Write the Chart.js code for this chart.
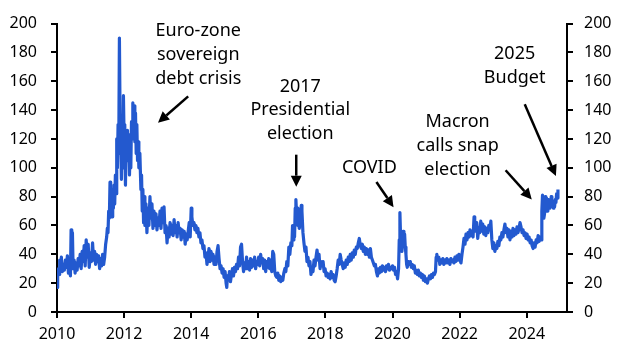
<!DOCTYPE html>
<html><head><meta charset="utf-8">
<script src="https://cdn.jsdelivr.net/npm/chart.js@4/dist/chart.umd.min.js"></script>
<style>html,body{margin:0;padding:0;background:#fff}#wrap{width:621px;height:352px}</style>
</head><body><div id="wrap"><canvas id="c" width="621" height="352"></canvas></div>
<script>
// French-German 10y spread (bp), decimal years
const dates = [
2010.00,2010.02,2010.04,2010.06,2010.08,2010.10,2010.13,2010.16,2010.19,2010.22,2010.25,2010.28,2010.31,2010.34,2010.37,2010.40,2010.42,2010.44,2010.46,2010.48,2010.51,2010.54,2010.57,2010.60,2010.63,2010.66,2010.69,2010.72,2010.75,2010.78,2010.81,2010.84,2010.87,2010.90,2010.93,2010.96,
2011.00,2011.03,2011.06,2011.09,2011.12,2011.15,2011.18,2011.21,2011.24,2011.27,2011.30,2011.33,2011.36,2011.39,2011.42,2011.45,2011.48,2011.50,2011.52,2011.54,2011.56,2011.58,2011.60,2011.62,2011.64,2011.66,2011.68,2011.70,2011.72,2011.74,2011.76,2011.78,2011.80,2011.82,2011.84,2011.86,2011.88,2011.90,2011.92,2011.94,2011.96,2011.98,
2012.00,2012.02,2012.04,2012.06,2012.08,2012.10,2012.12,2012.14,2012.16,2012.18,2012.20,2012.22,2012.24,2012.26,2012.28,2012.30,2012.32,2012.34,2012.36,2012.38,2012.40,2012.42,2012.44,2012.47,2012.50,2012.52,2012.54,2012.56,2012.58,2012.60,2012.62,2012.65,2012.68,2012.71,2012.74,2012.77,2012.80,2012.83,2012.86,2012.89,2012.92,2012.95,2012.98,
2013.01,2013.04,2013.07,2013.10,2013.13,2013.16,2013.19,2013.22,2013.25,2013.28,2013.31,2013.34,2013.37,2013.40,2013.43,2013.46,2013.49,2013.52,2013.55,2013.58,2013.61,2013.64,2013.67,2013.70,2013.73,2013.76,2013.79,2013.82,2013.85,2013.88,2013.91,2013.94,2013.97,
2014.00,2014.02,2014.05,2014.08,2014.11,2014.14,2014.17,2014.20,2014.23,2014.26,2014.29,2014.32,2014.35,2014.38,2014.41,2014.44,2014.47,2014.50,2014.53,2014.56,2014.59,2014.62,2014.65,2014.68,2014.71,2014.74,2014.77,2014.80,2014.83,2014.86,2014.89,2014.92,2014.95,2014.98,
2015.01,2015.04,2015.06,2015.08,2015.11,2015.14,2015.17,2015.20,2015.23,2015.26,2015.29,2015.32,2015.35,2015.38,2015.41,2015.44,2015.47,2015.50,2015.53,2015.56,2015.59,2015.62,2015.65,2015.68,2015.71,2015.74,2015.77,2015.80,2015.83,2015.86,2015.89,2015.92,2015.95,2015.98,
2016.01,2016.04,2016.07,2016.10,2016.13,2016.16,2016.19,2016.22,2016.25,2016.28,2016.31,2016.34,2016.37,2016.40,2016.43,2016.46,2016.49,2016.52,2016.55,2016.58,2016.61,2016.64,2016.67,2016.70,2016.73,2016.76,2016.79,2016.82,2016.85,2016.88,2016.91,2016.94,2016.97,
2017.00,2017.02,2017.04,2017.06,2017.08,2017.10,2017.12,2017.14,2017.16,2017.18,2017.20,2017.22,2017.25,2017.28,2017.30,2017.33,2017.36,2017.39,2017.42,2017.45,2017.48,2017.51,2017.54,2017.57,2017.60,2017.63,2017.66,2017.69,2017.72,2017.75,2017.78,2017.81,2017.84,2017.87,2017.90,2017.93,2017.96,2017.99,
2018.02,2018.05,2018.08,2018.11,2018.14,2018.17,2018.20,2018.23,2018.26,2018.29,2018.32,2018.35,2018.38,2018.41,2018.44,2018.47,2018.50,2018.53,2018.56,2018.59,2018.62,2018.65,2018.68,2018.71,2018.74,2018.77,2018.80,2018.83,2018.86,2018.89,2018.92,2018.95,2018.98,
2019.01,2019.04,2019.07,2019.10,2019.13,2019.16,2019.19,2019.22,2019.25,2019.28,2019.31,2019.34,2019.37,2019.40,2019.43,2019.46,2019.49,2019.52,2019.55,2019.58,2019.61,2019.64,2019.67,2019.70,2019.73,2019.76,2019.79,2019.82,2019.85,2019.88,2019.91,2019.94,2019.97,
2020.00,2020.03,2020.06,2020.09,2020.12,2020.15,2020.18,2020.20,2020.22,2020.24,2020.26,2020.28,2020.30,2020.32,2020.34,2020.36,2020.38,2020.40,2020.42,2020.44,2020.47,2020.50,2020.53,2020.56,2020.59,2020.62,2020.65,2020.68,2020.71,2020.74,2020.77,2020.80,2020.83,2020.86,2020.89,2020.92,2020.95,2020.98,
2021.01,2021.04,2021.07,2021.10,2021.13,2021.16,2021.19,2021.22,2021.25,2021.28,2021.30,2021.32,2021.35,2021.38,2021.41,2021.44,2021.47,2021.50,2021.53,2021.56,2021.59,2021.62,2021.65,2021.68,2021.71,2021.74,2021.77,2021.80,2021.83,2021.86,2021.89,2021.92,2021.95,2021.98,
2022.01,2022.04,2022.07,2022.10,2022.13,2022.16,2022.19,2022.22,2022.25,2022.28,2022.31,2022.34,2022.37,2022.40,2022.43,2022.45,2022.48,2022.51,2022.54,2022.57,2022.60,2022.63,2022.66,2022.69,2022.72,2022.75,2022.78,2022.81,2022.84,2022.87,2022.90,2022.93,2022.96,2022.99,
2023.02,2023.05,2023.08,2023.11,2023.14,2023.17,2023.20,2023.23,2023.26,2023.29,2023.32,2023.35,2023.38,2023.41,2023.44,2023.47,2023.50,2023.53,2023.56,2023.59,2023.62,2023.65,2023.68,2023.71,2023.74,2023.77,2023.80,2023.83,2023.86,2023.89,2023.92,2023.95,2023.98,
2024.01,2024.04,2024.07,2024.10,2024.13,2024.16,2024.19,2024.22,2024.25,2024.28,2024.31,2024.34,2024.37,2024.40,2024.43,2024.45,2024.47,2024.49,2024.51,2024.53,2024.55,2024.57,2024.59,2024.61,2024.63,2024.65,2024.67,2024.69,2024.71,2024.73,2024.75,2024.77,2024.79,2024.81,2024.83,2024.85,2024.87,2024.89,2024.91,2024.93
];
const spread = [
17,24,30,26,36,30,38,28,33,29,36,31,39,27,33,25,57,45,55,30,36,27,34,29,37,32,40,30,42,35,46,32,50,38,47,31,
41,35,48,36,42,33,40,35,39,30,37,32,40,33,38,47,52,58,55,70,65,90,68,75,66,85,72,88,75,95,82,120,100,130,110,190,135,118,92,125,100,150,
120,130,88,120,105,126,110,123,95,115,100,132,120,145,130,143,118,138,110,130,105,118,100,110,85,95,70,85,62,80,60,75,55,72,60,80,65,75,58,70,60,68,57,
65,60,70,58,72,62,73,55,60,48,58,52,62,54,60,53,64,55,60,52,62,55,58,50,57,52,56,47,54,50,56,62,52,
72,66,60,62,57,60,55,58,52,55,48,50,44,46,38,41,33,38,44,35,42,36,40,33,38,33,42,46,37,30,32,27,30,24,
28,20,17,25,22,28,21,26,30,25,31,28,33,30,38,32,45,47,35,28,34,30,38,30,35,29,37,31,36,32,38,30,35,33,
38,32,40,34,37,30,36,28,35,31,37,30,36,28,42,40,28,25,24,27,22,25,21,24,22,27,30,28,35,32,45,40,48,
46,60,50,58,52,72,78,68,72,60,65,58,62,74,70,55,48,42,45,35,38,32,35,26,30,28,36,32,38,43,36,40,30,35,32,35,28,30,
25,27,24,26,23,28,24,26,22,21,25,30,36,33,40,36,33,30,34,31,36,33,38,35,40,36,41,38,43,40,45,44,48,
51,46,44,47,42,45,40,44,40,43,38,44,38,36,34,32,33,28,25,30,27,31,28,32,29,31,28,32,30,33,29,31,30,
32,29,31,26,28,23,30,50,69,52,45,42,50,56,50,54,45,40,33,31,35,33,35,31,33,30,32,27,29,26,29,25,27,24,26,22,25,21,
23,20,23,25,23,26,24,27,26,28,38,40,36,38,33,36,34,37,33,36,34,37,34,36,33,37,35,36,34,38,35,39,36,40,
36,34,40,45,51,47,54,50,55,52,57,53,56,52,66,60,56,62,51,58,55,63,56,61,54,59,53,58,55,60,57,63,50,44,
48,42,46,44,49,46,52,50,55,52,57,61,55,58,52,57,50,56,52,58,53,57,54,59,55,58,62,59,55,57,53,55,51,
54,50,52,48,50,46,44,48,45,50,48,53,49,52,50,70,81,76,65,68,80,75,79,70,74,78,72,76,73,80,74,77,72,75,73,78,76,82,79,85
];
const yTicks = [0,20,40,60,80,100,120,140,160,180,200];
const xTicks = [2010,2012,2014,2016,2018,2020,2022,2024];
const notes = [
  {lines:['Euro-zone','sovereign','debt crisis'], x:2014.21, y:[195.3,178.5,161.6], arrow:[2013.91,149.5,2013.01,131.3]},
  {lines:['2017','Presidential','election'], x:2017.25, y:[156.2,140.1,123.2], arrow:[2017.13,109.1,2017.13,86.9]},
  {lines:['COVID'], x:2019.31, y:[99.7], arrow:[2019.52,90.2,2020.03,72.7]},
  {lines:['Macron','calls snap','election'], x:2021.94, y:[132,115.2,98.3], arrow:[2023.37,98.3,2024.15,78.1]},
  {lines:['2025','Budget'], x:2023.64, y:[179.1,162.3], arrow:[2023.94,144.1,2024.87,94.3]}
];
const FONT = 'Noto Sans';
const points = dates.map((d,i)=>({x:d,y:spread[i]}));

const notePlugin = {
  id:'notes',
  afterDatasetsDraw(chart){
    const ctx = chart.ctx, xs = chart.scales.x, ys = chart.scales.y;
    ctx.save();
    ctx.fillStyle = '#000'; ctx.strokeStyle = '#000';
    ctx.font = '18px "'+FONT+'"';
    ctx.textAlign = 'center'; ctx.textBaseline = 'middle';
    notes.forEach(n=>{
      n.lines.forEach((t,i)=>ctx.fillText(t, xs.getPixelForValue(n.x), ys.getPixelForValue(n.y[i])));
      const x1 = xs.getPixelForValue(n.arrow[0]), y1 = ys.getPixelForValue(n.arrow[1]);
      const x2 = xs.getPixelForValue(n.arrow[2]), y2 = ys.getPixelForValue(n.arrow[3]);
      const a = Math.atan2(y2-y1, x2-x1), L = 11, W = 5.5;
      const bx = x2 - L*Math.cos(a), by = y2 - L*Math.sin(a);
      ctx.lineWidth = 2.5;
      ctx.beginPath(); ctx.moveTo(x1,y1); ctx.lineTo(bx,by); ctx.stroke();
      ctx.beginPath();
      ctx.moveTo(x2,y2);
      ctx.lineTo(bx + W*Math.sin(a), by - W*Math.cos(a));
      ctx.lineTo(bx - W*Math.sin(a), by + W*Math.cos(a));
      ctx.closePath(); ctx.fill();
    });
    ctx.restore();
  }
};

const tickFont = {family:FONT, size:16};
function yAxis(pos, w, pad){
  return {
    type:'linear', position:pos, min:0, max:200,
    afterBuildTicks: s => { s.ticks = yTicks.map(v=>({value:v})); },
    afterFit: s => { s.width = w; },
    ticks:{font:tickFont, color:'#000', padding:pad, callback:v=>String(v)},
    grid:{drawOnChartArea:false, drawTicks:true, tickLength:6, color:'#000', lineWidth:2},
    border:{color:'#000', width:2}
  };
}

new Chart(document.getElementById('c'), {
  type:'line',
  data:{datasets:[{data:points, borderColor:'#2359cf', borderWidth:3.2, pointRadius:0, tension:0, borderJoinStyle:'round', fill:false}]},
  options:{
    responsive:false, animation:false, devicePixelRatio:1,
    layout:{padding:{top:15,left:0,right:0,bottom:0}},
    plugins:{legend:{display:false}, tooltip:{enabled:false}},
    scales:{
      x:{type:'linear', min:2010, max:2025.2,
        afterBuildTicks: s => { s.ticks = xTicks.map(v=>({value:v})); },
        afterFit: s => { s.height = 40; },
        ticks:{font:tickFont, color:'#000', padding:7, maxRotation:0, autoSkip:false, callback:v=>String(v)},
        grid:{drawOnChartArea:false, drawTicks:true, tickLength:6, color:'#000', lineWidth:2},
        border:{color:'#000', width:2}
      },
      y: yAxis('left', 57, 14),
      y2: yAxis('right', 54, 11)
    }
  },
  plugins:[notePlugin]
});
</script>
</body></html>
